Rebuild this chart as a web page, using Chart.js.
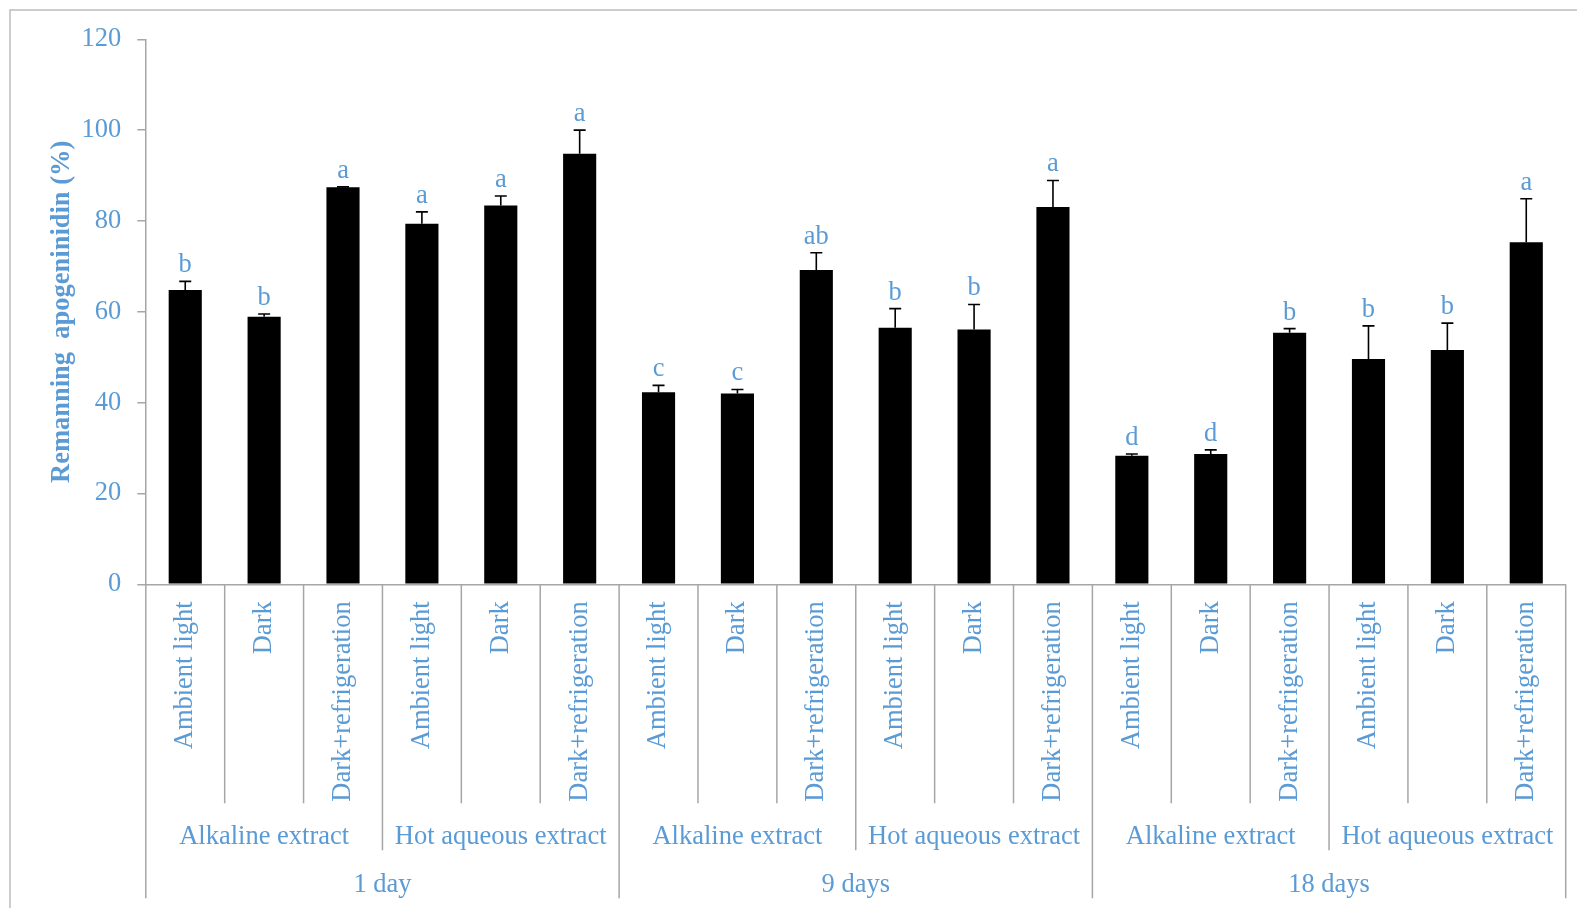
<!DOCTYPE html>
<html>
<head>
<meta charset="utf-8">
<script src="https://cdn.jsdelivr.net/npm/chart.js@4"></script>
<style>
  html, body { margin: 0; padding: 0; background: #fff; }
  #wrap { width: 1577px; height: 908px; }
</style>
</head>
<body>
<div id="wrap"><canvas id="apoChart" width="1577" height="908"></canvas></div>
<script>
// storage conditions (leaf level), extract type (middle level), storage time (top level)
const conditions = [
    'Ambient light', 'Dark', 'Dark+refrigeration', 'Ambient light', 'Dark', 'Dark+refrigeration',
    'Ambient light', 'Dark', 'Dark+refrigeration', 'Ambient light', 'Dark', 'Dark+refrigeration',
    'Ambient light', 'Dark', 'Dark+refrigeration', 'Ambient light', 'Dark', 'Dark+refrigeration'
];
const extracts = [
    'Alkaline extract', 'Hot aqueous extract',
    'Alkaline extract', 'Hot aqueous extract',
    'Alkaline extract', 'Hot aqueous extract'
];
const periods = ['1 day', '9 days', '18 days'];

// remaining apogeninidin (%) and upper error
const remaining = [64.8, 58.9, 87.4, 79.4, 83.4, 94.8, 42.3, 42.0, 69.2, 56.5, 56.1, 83.1, 28.3, 28.7, 55.4, 49.6, 51.6, 75.3];
const errUp     = [1.9, 0.6, 0.1, 2.6, 2.1, 5.2, 1.5, 0.9, 3.8, 4.2, 5.5, 5.8, 0.4, 0.9, 0.9, 7.3, 5.9, 9.6];
const letters   = ['b', 'b', 'a', 'a', 'a', 'a', 'c', 'c', 'ab', 'b', 'b', 'a', 'd', 'd', 'b', 'b', 'b', 'a'];

const yMin = 0;
const yMax = 120;
const yStep = 20;

const BLUE = '#5B9BD5';
const GREY = '#A6A6A6';
const SERIF = '"Liberation Serif", "Times New Roman", serif';
const FONT_SIZE = 26.5;

// error bars, significance letters, multi-level axis, outer frame
const decorations = {
    id: 'decorations',
    beforeDraw(chart) {
        const ctx = chart.ctx;
        ctx.save();
        ctx.strokeStyle = '#BDBDBD';
        ctx.lineWidth = 1.5;
        ctx.beginPath();
        ctx.moveTo(10, chart.height);
        ctx.lineTo(10, 10);
        ctx.lineTo(chart.width, 10);
        ctx.stroke();
        ctx.restore();
    },
    afterDatasetsDraw(chart) {
        const ctx = chart.ctx;
        const yScale = chart.scales.y;
        const meta = chart.getDatasetMeta(0);
        ctx.save();
        meta.data.forEach((bar, i) => {
            const top = yScale.getPixelForValue(remaining[i] + errUp[i]);
            ctx.strokeStyle = '#000';
            ctx.lineWidth = 1.6;
            ctx.beginPath();
            ctx.moveTo(bar.x, bar.y);
            ctx.lineTo(bar.x, top);
            ctx.moveTo(bar.x - 6, top);
            ctx.lineTo(bar.x + 6, top);
            ctx.stroke();

            ctx.fillStyle = BLUE;
            ctx.font = FONT_SIZE + 'px ' + SERIF;
            ctx.textAlign = 'center';
            ctx.textBaseline = 'middle';
            ctx.fillText(letters[i], bar.x, top - 16);
        });
        ctx.restore();
    },
    afterDraw(chart) {
        const ctx = chart.ctx;
        const xScale = chart.scales.x;
        const n = conditions.length;
        const w = (xScale.right - xScale.left) / n;
        const base = chart.chartArea.bottom;
        ctx.save();
        ctx.strokeStyle = GREY;
        ctx.lineWidth = 1.5;
        for (let i = 0; i <= n; i++) {
            const x = xScale.left + i * w;
            let depth = 219;
            if (i % 6 === 0) depth = 314;
            else if (i % 3 === 0) depth = 266;
            ctx.beginPath();
            ctx.moveTo(x, base);
            ctx.lineTo(x, base + depth);
            ctx.stroke();
        }
        ctx.fillStyle = BLUE;
        ctx.font = FONT_SIZE + 'px ' + SERIF;
        ctx.textAlign = 'center';
        ctx.textBaseline = 'middle';
        extracts.forEach((label, g) => {
            ctx.fillText(label, xScale.left + (g * 3 + 1.5) * w, base + 253);
        });
        periods.forEach((label, g) => {
            ctx.fillText(label, xScale.left + (g * 6 + 3) * w, base + 301);
        });
        ctx.restore();
    }
};

const ctx = document.getElementById('apoChart').getContext('2d');
new Chart(ctx, {
    type: 'bar',
    data: {
        labels: conditions,
        datasets: [{
            label: 'Remaining apogeninidin',
            data: remaining,
            backgroundColor: '#000',
            borderWidth: 0,
            barPercentage: 0.42,
            categoryPercentage: 1
        }]
    },
    options: {
        responsive: false,
        animation: false,
        devicePixelRatio: 1,
        layout: {
            padding: { top: 39.3, right: 11.3, bottom: 0, left: 0 }
        },
        scales: {
            x: {
                grid: { display: false, drawTicks: false },
                border: { display: true, color: GREY, width: 1.5 },
                ticks: {
                    autoSkip: false,
                    minRotation: 90,
                    maxRotation: 90,
                    padding: 17,
                    color: BLUE,
                    font: { family: SERIF, size: FONT_SIZE }
                },
                afterFit(scale) { scale.height = 323.7; }
            },
            y: {
                min: yMin,
                max: yMax,
                grid: {
                    drawOnChartArea: false,
                    color: GREY,
                    lineWidth: 1.5,
                    tickLength: 8.5
                },
                border: { display: true, color: GREY, width: 1.5 },
                ticks: {
                    stepSize: yStep,
                    padding: 16,
                    color: BLUE,
                    font: { family: SERIF, size: FONT_SIZE }
                },
                title: {
                    display: true,
                    text: 'Remanning  apogeninidin (%)',
                    color: BLUE,
                    padding: { top: 46, bottom: 0 },
                    font: { family: SERIF, size: FONT_SIZE, weight: 'bold' }
                },
                afterFit(scale) { scale.width = 145.8; }
            }
        },
        plugins: {
            legend: { display: false },
            tooltip: { enabled: false }
        }
    },
    plugins: [decorations]
});
</script>
</body>
</html>
